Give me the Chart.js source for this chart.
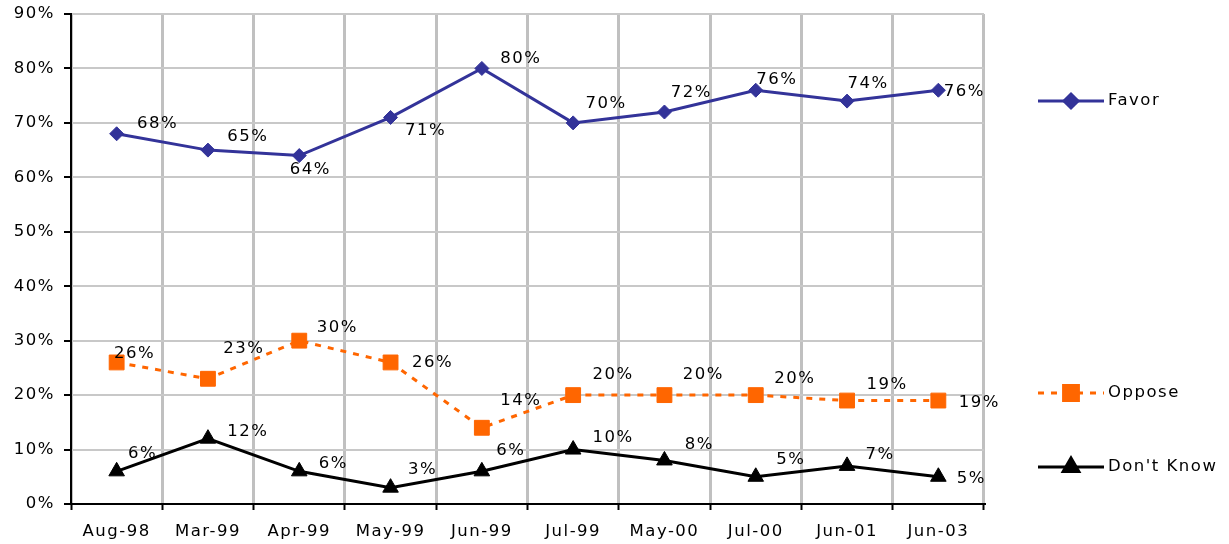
<!DOCTYPE html>
<html>
<head>
<meta charset="utf-8">
<script src="https://cdn.jsdelivr.net/npm/chart.js@4/dist/chart.umd.min.js"></script>
<style>
  html, body { margin: 0; padding: 0; background: #fff; }
  #wrap { width: 1229px; height: 544px; position: relative; }
</style>
</head>
<body>
<div id="wrap"><canvas id="chart"></canvas></div>
<script>
// valores
const categorias = ['Aug-98', 'Mar-99', 'Apr-99', 'May-99', 'Jun-99', 'Jul-99', 'May-00', 'Jul-00', 'Jun-01', 'Jun-03'];
const favor = [68, 65, 64, 71, 80, 70, 72, 76, 74, 76];
const oppose = [26, 23, 30, 26, 14, 20, 20, 20, 19, 19];
const dontKnow = [6, 12, 6, 3, 6, 10, 8, 5, 7, 5];
const yTicks = [0, 10, 20, 30, 40, 50, 60, 70, 80, 90];

// desplazamiento de las etiquetas respecto al punto (px)
const favorDx = [41, 40, 11, 35, 39, 33, 27, 21, 21, 26];
const favorDy = [-10, -13, 14, 13, -10, -19, -19, -11, -17, 1];
const opposeDx = [18, 36, 38, 42, 39, 40, 39, 39, 40, 41];
const opposeDy = [-9, -30, -13, 0, -27, -20, -20, -16, -16, 2];
const dkDx = [26, 40, 34, 32, 29, 40, 35, 35, 33, 33];
const dkDy = [-18, -7, -8, -18, -21, -12, -16, -17, -11, 2];

const FAMILY = '"DejaVu Sans", Verdana, sans-serif';
const FONT = '16.5px ' + FAMILY;
const SPACING = '1.5px';

const series = [
    { label: 'Favor', data: favor, color: '#333399', style: 'rectRot', radius: 7, dash: [], dx: favorDx, dy: favorDy, legendY: 101 },
    { label: 'Oppose', data: oppose, color: '#FF6600', style: 'rect', radius: 10.5, dash: [6, 7], dx: opposeDx, dy: opposeDy, legendY: 393 },
    { label: "Don't Know", data: dontKnow, color: '#000000', style: 'triangle', radius: 9, dash: [], dx: dkDx, dy: dkDy, legendY: 467 }
];

const spacingPlugin = {
    id: 'spacing',
    beforeUpdate(chart) { chart.ctx.letterSpacing = SPACING; },
    beforeDraw(chart) { chart.ctx.letterSpacing = SPACING; }
};

const labelsPlugin = {
    id: 'dataLabels',
    afterDatasetsDraw(chart) {
        const ctx = chart.ctx;
        ctx.save();
        ctx.letterSpacing = SPACING;
        ctx.font = FONT;
        ctx.fillStyle = '#000';
        ctx.textAlign = 'center';
        ctx.textBaseline = 'middle';
        series.forEach((s, i) => {
            const meta = chart.getDatasetMeta(i);
            meta.data.forEach((pt, j) => {
                ctx.fillText(s.data[j] + '%', pt.x + s.dx[j], pt.y + s.dy[j]);
            });
        });
        ctx.restore();
    }
};

const legendPlugin = {
    id: 'sideLegend',
    afterDraw(chart) {
        const ctx = chart.ctx;
        ctx.save();
        series.forEach(s => {
            const y = s.legendY;
            ctx.strokeStyle = s.color;
            ctx.lineWidth = 3;
            ctx.setLineDash(s.dash);
            ctx.beginPath();
            ctx.moveTo(1038, y);
            ctx.lineTo(1104, y);
            ctx.stroke();
            ctx.setLineDash([]);
            ctx.fillStyle = s.color;
            Chart.helpers.drawPoint(ctx, { pointStyle: s.style, radius: s.radius, borderWidth: 1, rotation: 0 }, 1071, y);
            ctx.fillStyle = '#000';
            ctx.letterSpacing = SPACING;
            ctx.font = FONT;
            ctx.textAlign = 'left';
            ctx.textBaseline = 'middle';
            ctx.fillText(s.label, 1108, y);
        });
        ctx.restore();
    }
};

new Chart(document.getElementById('chart'), {
    type: 'line',
    data: {
        labels: categorias,
        datasets: series.map(s => ({
            label: s.label,
            data: s.data,
            borderColor: s.color,
            backgroundColor: s.color,
            borderWidth: 3,
            borderDash: s.dash,
            pointStyle: s.style,
            pointRadius: s.radius,
            pointHoverRadius: s.radius,
            pointBorderWidth: 1,
            pointBorderColor: s.color,
            pointBackgroundColor: s.color,
            tension: 0,
            fill: false
        }))
    },
    options: {
        responsive: true,
        maintainAspectRatio: false,
        animation: false,
        layout: { padding: { top: 14, right: 245, bottom: 0, left: 0 } },
        plugins: {
            legend: { display: false },
            tooltip: { enabled: false }
        },
        scales: {
            x: {
                offset: true,
                grid: { offset: true, color: '#c0c0c0', lineWidth: 3, drawTicks: true, tickLength: 6, tickColor: '#000', tickWidth: 2 },
                border: { display: true, color: '#000', width: 2 },
                ticks: { color: '#000', font: { family: FAMILY, size: 16.5 }, padding: 12, maxRotation: 0, autoSkip: false },
                afterFit(scale) {
                    scale.height = 40;
                    scale.paddingLeft = 0;
                    scale.paddingRight = 0;
                }
            },
            y: {
                min: 0,
                max: 90,
                afterBuildTicks(scale) { scale.ticks = yTicks.map(v => ({ value: v })); },
                grid: { color: '#c8c8c8', lineWidth: 2, drawTicks: true, tickLength: 7, tickColor: '#000', tickWidth: 2 },
                border: { display: true, color: '#000', width: 2 },
                ticks: { color: '#000', font: { family: FAMILY, size: 16.5 }, padding: 9, callback: v => v + '%' },
                afterFit(scale) {
                    scale.width = 71;
                    scale.paddingTop = 0;
                    scale.paddingBottom = 0;
                }
            }
        }
    },
    plugins: [spacingPlugin, labelsPlugin, legendPlugin]
});
</script>
</body>
</html>
